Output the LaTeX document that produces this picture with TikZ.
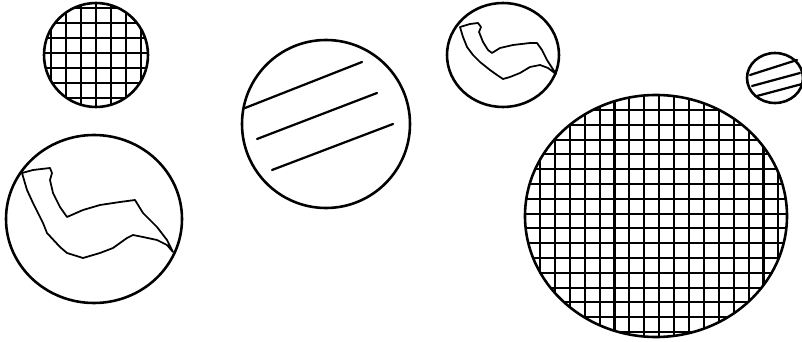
\documentclass[tikz,border=0pt]{standalone}
\tikzset{
  rim/.style={line width=2.2pt},
  mesh/.style={line width=1.8pt},
  crack/.style={line width=1.5pt, line join=round},
  streak/.style={line width=1.9pt, line cap=round}
}
\begin{document}
\begin{tikzpicture}[x=0.03cm,y=-0.03cm]
\useasboundingbox (0,0) rectangle (802,342);

% small gridded disc
\begin{scope}
\clip (96,55) circle (52);
\foreach \gx in {51,66,...,141} \draw[mesh] (\gx,0) -- (\gx,110);
\foreach \gy in {8,23,...,98} \draw[mesh] (40,\gy) -- (150,\gy);
\end{scope}
\draw[rim] (96,55) circle (52);

% large disc with crack
\draw[rim] (94,219) ellipse [x radius=88, y radius=84];
\draw[crack] (22,173) -- (33,170) -- (50,168) -- (52,173) -- (50,180) -- (53,193)
  -- (60,207) -- (67,217) -- (83,210) -- (100,205) -- (120,202) -- (135,200)
  -- (143,213) -- (157,227) -- (167,240) -- (173,252)
  -- (167,245) -- (157,240) -- (143,237) -- (133,235) -- (127,238) -- (113,248)
  -- (100,253) -- (83,258) -- (67,253) -- (60,247) -- (47,233) -- (43,223)
  -- (33,203) -- (27,190) -- cycle;

% striped disc
\draw[rim] (326,124) circle (84);
\draw[streak] (245,108) -- (362,62);
\draw[streak] (257,139) -- (377,93);
\draw[streak] (272,170) -- (393,124);

% small disc with crack
\draw[rim] (503,55) ellipse [x radius=56, y radius=52];
\draw[crack] (460,27) -- (470,24) -- (478,23) -- (481,27) -- (479,32) -- (483,42)
  -- (488,50) -- (492,53) -- (500,48) -- (513,45) -- (530,43) -- (537,43)
  -- (542,50) -- (547,60) -- (556,74)
  -- (548,68) -- (540,65) -- (530,67) -- (520,73) -- (510,77) -- (503,79)
  -- (497,75) -- (490,70) -- (480,62) -- (473,55) -- (467,47) -- (463,37) -- cycle;

% tiny striped disc
\draw[rim] (775,78) ellipse [x radius=28, y radius=25];
\draw[streak] (750,75) -- (797,60);
\draw[streak] (752,86) -- (800,73);
\draw[streak] (757,96) -- (802,84);

% big gridded disc
\begin{scope}
\clip (656,216) ellipse [x radius=131, y radius=121];
\foreach \k in {-1,...,17} \draw[mesh] ({540+14.9*\k},90) -- ({540+14.9*\k},345);
\foreach \k in {-1,...,16} \draw[mesh] (520,{110+14.8*\k}) -- (795,{110+14.8*\k});
\end{scope}
\draw[rim] (656,216) ellipse [x radius=131, y radius=121];
\end{tikzpicture}
\end{document}
